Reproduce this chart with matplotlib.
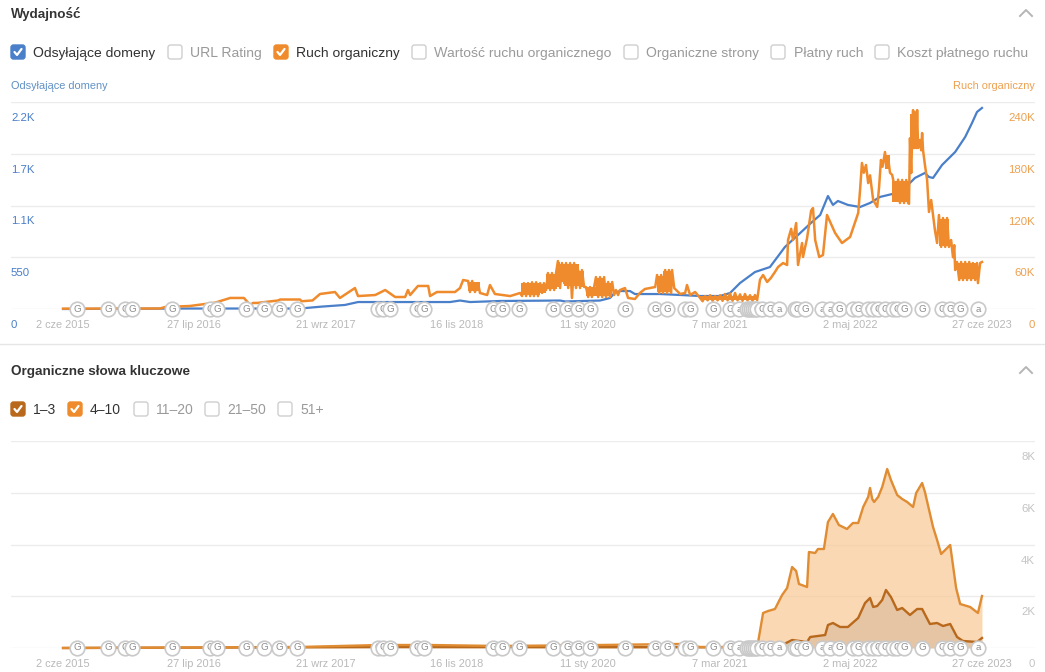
import matplotlib
matplotlib.use('Agg')
import matplotlib.pyplot as plt
import matplotlib.transforms as mtrans
from matplotlib.patches import FancyBboxPatch
import pandas as pd

plt.rcParams['font.family'] = ['Liberation Sans', 'DejaVu Sans']
plt.rcParams['text.hinting'] = 'no_autohint'

# Time axis
tick_dates = ['2015-06-02', '2016-07-27', '2017-09-21', '2018-11-16',
              '2020-01-11', '2021-03-07', '2022-05-02', '2023-06-27']
tick_labels = ['2 cze 2015', '27 lip 2016', '21 wrz 2017', '16 lis 2018',
               '11 sty 2020', '7 mar 2021', '2 maj 2022', '27 cze 2023']

# Referring domains (days since 2 Jun 2015, count)
domains_days = [0, 398, 760, 824, 904, 946, 1241, 1273, 1305, 1401, 1594, 1610, 1722, 1754, 1770,
                1786, 1818, 1834, 1915, 1979, 2043, 2107, 2139, 2171, 2219, 2267, 2315, 2364, 2402,
                2428, 2453, 2469, 2485, 2517, 2556, 2588, 2620, 2659, 2700, 2732, 2764, 2777, 2790,
                2819, 2861, 2893, 2915, 2931, 2947]
domains = [0, 5, 5, 24, 43, 74, 74, 90, 74, 85, 90, 80, 90, 117, 175,
           191, 191, 159, 159, 149, 138, 138, 170, 276, 393, 446, 659, 808, 925,
           999, 1201, 1106, 1148, 1106, 1084, 1127, 1191, 1222, 1286, 1393, 1446, 1403, 1393,
           1531, 1669, 1828, 1977, 2094, 2137]

# Organic traffic (days, thousands)
traffic_days = [0, 311, 327, 407, 455, 487, 536, 580, 600, 609, 622, 690, 696, 760, 765, 800, 824, 872,
                888, 936, 946, 1001, 1033, 1065, 1097, 1106, 1113, 1138, 1171, 1177, 1199, 1257,
                1273, 1283, 1299, 1305, 1312, 1321, 1331, 1337, 1360, 1369, 1385, 1434, 1466,
                1472, 1478, 1485, 1491, 1498, 1504, 1510, 1517, 1523,
                1530, 1536, 1542, 1549, 1555, 1562, 1568, 1575, 1581, 1587, 1594, 1600, 1607, 1613,
                1620, 1626, 1632, 1639, 1645, 1652, 1658, 1664, 1671, 1677, 1684, 1690, 1696, 1703,
                1709, 1716, 1722, 1729, 1735, 1741, 1748, 1754, 1761, 1767, 1773, 1780, 1786,
                1802, 1812, 1834, 1850, 1866, 1899, 1905, 1912, 1918, 1924, 1931, 1937, 1943, 1950,
                1953, 1960, 1979, 1995, 2001, 2011, 2027,
                2043, 2051, 2059, 2067, 2075, 2083, 2091, 2099, 2107, 2115, 2123, 2131, 2139, 2147,
                2155, 2163, 2171, 2179, 2187, 2195, 2203, 2211, 2219, 2226,
                2235, 2245, 2258, 2270, 2283, 2293, 2309, 2322, 2325, 2335, 2341, 2351, 2357, 2370,
                2373, 2386, 2399, 2405, 2412, 2425, 2437, 2450,
                2476, 2498, 2524, 2550, 2556, 2562, 2568, 2575, 2582, 2588, 2598, 2611, 2617, 2623,
                2628, 2636, 2640, 2646, 2652, 2659,
                2671, 2678, 2684, 2691, 2697, 2704, 2710, 2713,
                2716, 2720, 2723, 2726, 2729, 2732, 2736, 2739, 2742, 2748, 2752, 2755, 2758, 2764,
                2771, 2777, 2784, 2790, 2796, 2803, 2809, 2816, 2822, 2829, 2835, 2841, 2848, 2854,
                2858, 2861, 2867, 2874, 2880, 2886, 2893, 2899, 2906, 2912, 2918, 2925, 2931, 2934,
                2941, 2947]
traffic_k = [0.4, 0.6, 2.3, 3.5, 5.8, 7.3, 12.8, 12.8, 4.6, 7, 7, 9.9, 11, 11, 9, 9.9, 17.4, 19.7,
             12.8, 24.3, 15, 16.2, 22, 13.9, 13.9, 22, 16.2, 26.7, 26.7, 15, 19.7, 19.7,
             24.3, 33.6, 32.5, 19.7, 32.5, 19.7, 30, 18.6, 16.2, 27.8, 17.4, 15, 18.6,
             15, 30, 15, 30, 15, 31, 15, 31, 15,
             30, 18.6, 30, 22, 41.7, 22, 41.7, 22, 41.7, 55.6, 24.3, 53.3, 30, 53.3,
             24.3, 53.3, 12.8, 53.3, 24.3, 45.2, 24.3, 45.2, 25.5, 25.5, 13.9, 25.5, 13.9, 25.5,
             37, 13.9, 37, 13.9, 37, 13.9, 31.3, 13.9, 31.3, 16.2, 22, 16.2, 22,
             24.3, 12.8, 11.6, 18.6, 23.2, 25.5, 39.4, 18.6, 39.4, 18.6, 45.2, 18.6, 45.2, 18.6,
             45.2, 24.3, 17.4, 18.6, 27.8, 16.2, 19.7,
             12.8, 9, 15, 10, 16, 9.5, 15, 10, 16, 9.5, 17.4, 10, 18, 9.5,
             18.6, 10, 17, 9.5, 17.4, 10, 16, 9.5, 16.2, 10.4,
             34, 39.4, 31.3, 36, 42.9, 48.7, 53.3, 51, 80, 93, 80, 99.7, 51, 76.5,
             60.3, 82, 114, 117, 80, 60.3, 62.6, 109,
             88.1, 76.5, 83.5, 111.3, 138, 169.3, 158, 167, 146, 155, 126.4, 118.3, 141.4, 172.8,
             165, 182, 165, 175, 158, 155.4,
             134.5, 150, 122.9, 149.6, 122.9, 149.6, 122.9, 122,
             198, 157.6, 198, 230.6, 186.6, 228, 186.6, 230.6, 186.6, 196, 184, 204, 184, 167,
             149.6, 112.5, 126.4, 109, 91.6, 76.5, 109, 72, 105.5, 72, 105.5, 72, 80, 60,
             74, 45.2, 54.5, 33.6, 54.5, 33.6, 54.5, 33.6, 54.5, 33.6, 53.3, 33.6, 53.3, 30,
             53.3, 54.5]

# Spans where the daily traffic swings so fast that it reads as a solid block
block_start = [1299, 1470, 1530, 1549, 1584, 1594, 1607, 1655, 1677, 1709, 1735, 1905, 1925, 2043,
               2636, 2659, 2716, 2748, 2809, 2870]
block_end = [1337, 1530, 1549, 1584, 1594, 1607, 1655, 1671, 1709, 1735, 1761, 1925, 1953, 2226,
             2652, 2713, 2742, 2758, 2841, 2931]
block_hi = [31, 30, 29, 41, 54, 52, 52, 44, 25, 36, 30, 38, 44, 15.5, 178, 148, 226, 196, 104, 53.5]
block_lo = [21, 16, 19, 23, 25, 31, 27, 25, 15, 15, 15, 20, 20, 10.5, 162, 124, 188, 185, 73, 35]

# Organic keywords, positions 4-10
kw410_days = [0, 439, 760, 1017, 1177, 1401, 1722, 1979, 2043, 2219, 2226, 2245, 2261, 2283, 2306, 2322,
              2338, 2351, 2360, 2386, 2392, 2412, 2421, 2440, 2453, 2469, 2488, 2514, 2533, 2550,
              2566, 2582, 2588, 2595, 2601, 2614, 2627, 2643, 2655, 2675, 2691, 2707, 2726, 2736,
              2755, 2764, 2790, 2803, 2816, 2845, 2864, 2877, 2909, 2934, 2947]
kw410 = [0, 20, 40, 116, 116, 77, 116, 155, 39, 39, 20, 1353, 1430, 1507, 2048, 2319,
         3130, 2976, 2474, 2358, 3710, 3672, 3826, 3826, 4870, 5180, 4754, 4599, 4831, 4831,
         5450, 5836, 6184, 5759, 5643, 5836, 6223, 6918, 6493, 5913, 5759, 5643, 5450, 5991,
         6377, 6029, 4677, 4174, 3633, 3981, 2319, 1701, 1585, 1353, 2010]

# Organic keywords, positions 1-3
kw13_days = [0, 1017, 2219, 2306, 2338, 2386, 2396, 2444, 2453, 2469, 2492, 2517, 2550, 2572, 2588, 2598,
             2611, 2627, 2639, 2655, 2675, 2691, 2716, 2739, 2755, 2780, 2803, 2822, 2845, 2867,
             2886, 2931, 2947]
kw13 = [0, 40, 30, 116, 309, 232, 425, 502, 889, 966, 812, 812, 1160, 1739, 1933, 1585,
        1623, 1855, 2242, 1971, 1469, 1546, 1275, 1507, 1507, 928, 966, 850, 928, 425,
        271, 232, 387]

# Annotation markers along the time axis
event_days = [45, 144, 199, 221, 350, 471, 494, 587, 645, 693, 750, 1010, 1026, 1049, 1135, 1158,
              1379, 1408, 1462, 1571, 1616, 1652, 1690, 1802, 1899, 1937, 1995, 2011, 2085, 2139,
              2168, 2194, 2200, 2206, 2213, 2219, 2226, 2241, 2267, 2296, 2348, 2354, 2380, 2434,
              2460, 2489, 2533, 2550, 2582, 2598, 2614, 2636, 2662, 2675, 2697, 2755, 2819, 2845,
              2877, 2934]
event_a_days = [2168, 2296, 2434, 2460, 2934]

top_legend = [('Odsyłające domeny', 11, 33, '#4a7fc9'), ('URL Rating', 168, 190, None),
              ('Ruch organiczny', 274, 296, '#ef8b2c'), ('Wartość ruchu organicznego', 412, 434, None),
              ('Organiczne strony', 624, 646, None), ('Płatny ruch', 771, 794, None),
              ('Koszt płatnego ruchu', 875, 897, None)]
bottom_legend = [('1–3', 11, 33, '#b9691c'), ('4–10', 68, 90, '#ef8b2c'), ('11–20', 134, 156, None),
                 ('21–50', 205, 227, None), ('51+', 278, 300, None)]

BLUE = '#4a7fc9'
ORANGE = '#ef8b2c'
DARK_ORANGE = '#b9691c'
KW_ORANGE = '#e08c33'
GRID = '#ececec'
W, H = 1045, 672
X_LEFT, X_RIGHT = -167, 3117


def px_axes(fig, top, bottom):
    return fig.add_axes([11 / W, (H - bottom) / H, 1024 / W, (bottom - top) / H])


def shift_labels(ax, axis, dx_px, dy_px):
    # tick labels sit below their gridlines in this chart
    offset = mtrans.ScaledTranslation(dx_px / 100, dy_px / 100, fig.dpi_scale_trans)
    for lab in axis.get_ticklabels():
        lab.set_transform(lab.get_transform() + offset)


def style_axes(ax):
    for s in ax.spines.values():
        s.set_visible(False)
    ax.set_xlim(X_LEFT, X_RIGHT)
    ax.patch.set_visible(False)


def style_x_ticks(ax):
    ax.set_xticks((pd.to_datetime(tick_dates) - pd.Timestamp(tick_dates[0])).days, tick_labels)
    ax.tick_params(axis='x', length=0, labelsize=7.9, labelcolor='#b9b9b9', pad=13.8)
    for lab in ax.get_xticklabels():
        lab.set_va('baseline')


def draw_events(ax):
    y_pos = ax.get_xaxis_transform()
    for i, d in enumerate(event_days):
        mark = 'a' if d in event_a_days else 'G'
        ax.scatter([d], [0], s=110, facecolor='white', edgecolor='#c9c9c9', linewidth=1.2,
                   transform=y_pos, clip_on=False, zorder=10 + i * 0.01)
        ax.text(d, 0, mark, transform=y_pos, ha='center', va='center', fontsize=7,
                color='#8f8f8f', zorder=10 + i * 0.01 + 0.001, clip_on=False)


fig = plt.figure(figsize=(W / 100, H / 100), dpi=100, facecolor='white')

# Performance panel
ax = px_axes(fig, 102, 309)
style_axes(ax)
ax.plot(domains_days, domains, color=BLUE, lw=1.6, clip_on=False, solid_joinstyle='round')
ax.set_ylim(0, 2200)
ax.set_yticks([0, 550, 1100, 1650, 2200], ['0', '550', '1.1K', '1.7K', '2.2K'])
ax.grid(axis='y', color=GRID, lw=1)
ax.set_axisbelow(True)
style_x_ticks(ax)
ax.tick_params(axis='y', length=0, labelsize=8.2, labelcolor=BLUE, pad=0)
for lab in ax.get_yticklabels():
    lab.set_ha('left')
    lab.set_va('top')
shift_labels(ax, ax.yaxis, 0, -11)

ax2 = ax.twinx()
style_axes(ax2)
for s, e, hi, lo in zip(block_start, block_end, block_hi, block_lo):
    ax2.fill_between([s, e], [lo, lo], [hi, hi], color=ORANGE, lw=0)
ax2.plot(traffic_days, traffic_k, color=ORANGE, lw=1.8, clip_on=False, solid_joinstyle='round')
ax2.set_ylim(0, 240)
ax2.set_yticks([0, 60, 120, 180, 240], ['0', '60K', '120K', '180K', '240K'])
ax2.tick_params(axis='y', length=0, labelsize=8.2, labelcolor='#eda04f', pad=0)
for lab in ax2.get_yticklabels():
    lab.set_ha('right')
    lab.set_va('top')
shift_labels(ax2, ax2.yaxis, 0, -11)
draw_events(ax2)

# Keywords panel
kw = px_axes(fig, 441, 648)
style_axes(kw)
kw.set_ylim(0, 8000)
kw.fill_between(kw410_days, kw410, color='#f8c48d', alpha=0.65, lw=0)
kw.fill_between(kw13_days, kw13, color='#c9a98c', alpha=0.4, lw=0)
kw.plot(kw13_days, kw13, color=DARK_ORANGE, lw=1.7, clip_on=False)
kw.plot(kw410_days, kw410, color=KW_ORANGE, lw=1.7, clip_on=False)
kw.set_yticks([0, 2000, 4000, 6000, 8000], ['0', '2K', '4K', '6K', '8K'])
kw.yaxis.tick_right()
kw.grid(axis='y', color=GRID, lw=1)
kw.set_axisbelow(True)
style_x_ticks(kw)
kw.tick_params(axis='y', length=0, labelsize=8.2, labelcolor='#c4c4c4', pad=0)
for lab in kw.get_yticklabels():
    lab.set_ha('right')
    lab.set_va('top')
shift_labels(kw, kw.yaxis, 0, -11)
draw_events(kw)

# Page chrome, in pixel coordinates
ui = fig.add_axes([0, 0, 1, 1], zorder=-1)
ui.set_xlim(0, W)
ui.set_ylim(H, 0)
ui.axis('off')


def checkbox(x, y, color):
    face = color if color else 'white'
    edge = color if color else '#cfcfcf'
    ui.add_patch(FancyBboxPatch((x + 2, y - 5), 10, 10, boxstyle='round,pad=2,rounding_size=2.5',
                                facecolor=face, edgecolor=edge, lw=1))
    if color:
        ui.plot([x + 3.5, x + 6, x + 10.5], [y, y + 3, y - 3], color='white', lw=1.6,
                solid_capstyle='round')


def legend_row(items, y):
    for name, box_x, text_x, color in items:
        checkbox(box_x, y, color)
        ui.text(text_x, y + 5, name, fontsize=10.1, va='baseline', ha='left',
                color='#333333' if color else '#9a9a9a')


ui.text(11, 18, 'Wydajność', fontsize=9.7, fontweight='bold', color='#333333', va='baseline')
ui.text(11, 375, 'Organiczne słowa kluczowe', fontsize=9.7, fontweight='bold', color='#333333', va='baseline')
legend_row(top_legend, 52)
legend_row(bottom_legend, 409)
ui.text(11, 89, 'Odsyłające domeny', fontsize=7.9, color='#5f8fc4', va='baseline')
ui.text(1035, 89, 'Ruch organiczny', fontsize=7.9, color='#eda04f', va='baseline', ha='right')
ui.plot([0, W], [344, 344], color='#e6e6e6', lw=1)
for y in (13, 370):
    ui.plot([1020, 1026, 1032], [y + 3, y - 3, y + 3], color='#b5b5b5', lw=1.4)

fig.savefig('out.png', dpi=100)
